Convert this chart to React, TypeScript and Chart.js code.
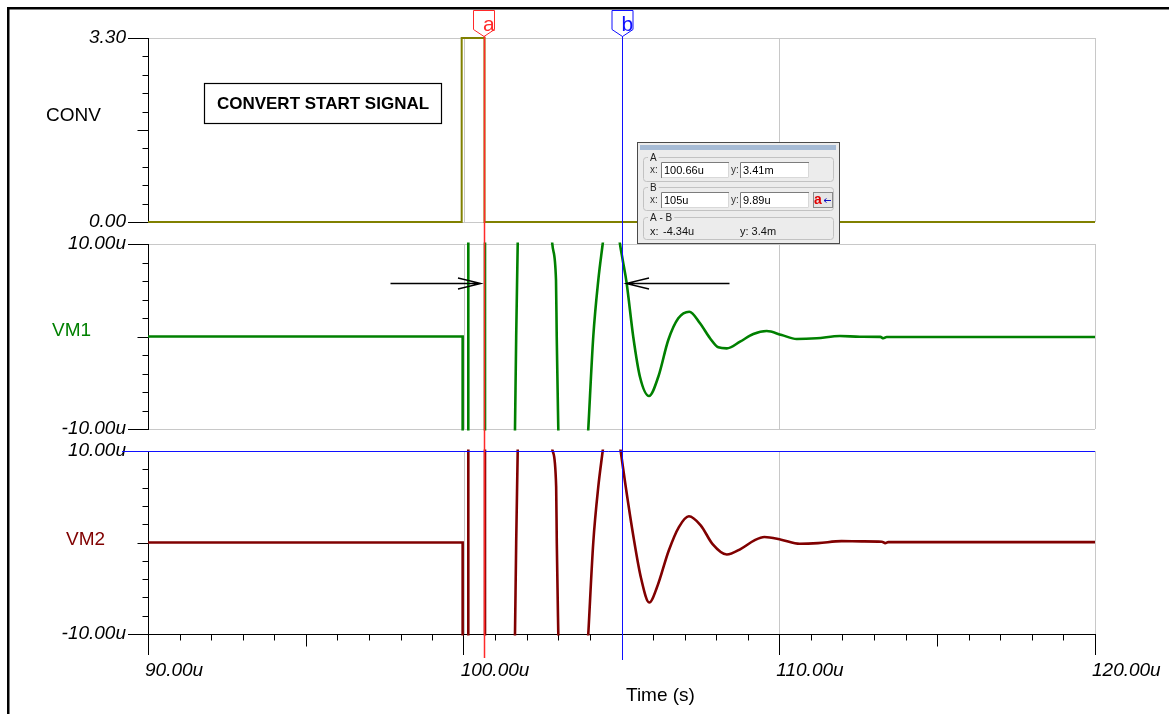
import React, { useEffect, useRef } from 'react';
import { Chart, registerables } from 'chart.js';

Chart.register(...registerables);

// ---------------- data ----------------
const xTickValues = [90, 100, 110, 120];
const xTickLabels = ['90.00u', '100.00u', '110.00u', '120.00u'];
const convTickLabels = ['0.00', '3.30'];
const vmTickLabels = ['-10.00u', '10.00u'];
const panelNames = ['CONV', 'VM1', 'VM2'];
const axisTitle = 'Time (s)';
const noteText = 'CONVERT START SIGNAL';

// time in µs, values in V (CONV) and in µ-units (VM1, VM2); values beyond ±10 are off-scale swings
const convTime = [90, 99.937, 99.937, 100.66, 100.66, 120];
const convValues = [0, 0, 3.3, 3.3, 0, 0];

const vm1Time = [
  90, 99.968, 99.969, 100.146, 100.148, 100.675, 100.677,
  101.55, 101.605, 101.626, 101.664, 101.712, 101.733, 101.85,
  102.7, 102.79, 102.808, 102.925, 102.948, 102.998, 103.02, 103.12,
  103.8, 103.9, 103.948, 104.106, 104.265, 104.404, 104.5, 104.7, 104.88,
  104.952, 105.038, 105.158, 105.373, 105.586, 105.871, 106.166,
  106.482, 106.799, 107.148, 107.487, 107.804, 108.067, 108.333, 108.755,
  109.176, 109.6, 110.075, 110.55, 111.183, 111.921, 112.555, 113.2,
  113.293, 113.4, 113.506, 120,
];
const vm1Values = [
  0, 0, -40, -40, 40, 40, -40,
  -40, -15, -10, 0, 10, 15, 40,
  40, 11.5, 10, 6.1, 0, -10, -14, -40,
  -40, -13, -10, 0, 6.1, 10, 12.7, 16, 12,
  10, 8.27, 5.89, -0.05, -4.38, -6.43, -4.35,
  -0.38, 1.97, 2.68, 1.43, -0.19, -1.17, -1.28, -0.56,
  0.27, 0.59, 0.16, -0.27, -0.19, 0.05, -0.02, -0.04,
  -0.19, -0.05, -0.05, -0.05,
];

const vm2Time = [
  90, 99.968, 99.969, 100.146, 100.148, 100.675, 100.677,
  101.55, 101.605, 101.626, 101.664, 101.712, 101.733, 101.85,
  102.7, 102.8, 102.82, 102.93, 102.95, 102.998, 103.02, 103.12,
  103.8, 103.9, 103.948, 104.106, 104.265, 104.404, 104.5, 104.7, 104.9,
  104.974, 105.126, 105.38, 105.618, 105.88, 106.124, 106.498,
  106.818, 107.135, 107.509, 107.879, 108.336, 108.782, 109.21, 109.527,
  110.059, 110.645, 111.228, 111.972, 112.609, 113.25, 113.353, 113.45,
  113.569, 120,
];
const vm2Values = [
  0, 0, -40, -40, 40, 40, -40,
  -40, -15, -10, 0, 10, 15, 40,
  40, 10.7, 10, 6.1, 0, -10, -14, -40,
  -40, -13, -10, 0, 6.1, 10, 12.7, 16, 11.8,
  10, 6.28, 0.6, -3.88, -6.56, -4.9, -0.87,
  1.69, 2.87, 1.88, -0.14, -1.31, -0.69, 0.23, 0.6,
  0.31, -0.14, -0.07, 0.15, 0.12, 0.08, -0.07, 0.04,
  0.04, 0.04,
];

const cursorTimes = [100.66, 105];
const cursorNames = ['a', 'b'];
const readoutA = ['100.66u', '3.41m'];
const readoutB = ['105u', '9.89u'];
const readoutDiff = ['-4.34u', '3.4m'];

// ---------------- styling ----------------
const FONT = '"Liberation Sans", Arial, Helvetica, sans-serif';
const GRID = '#c8c8c8';
const OLIVE = '#808000';
const GREEN = '#008000';
const MAROON = '#800000';
const CURSOR_A = '#ff2a2a';
const CURSOR_B = '#1010ff';

Chart.defaults.font.family = FONT;

const tickFont = { family: FONT, size: 19, style: 'italic' as const };

function yPanel(min: number, max: number, labels: string[], weight: number, stackWeight: number, bottomColor: string) {
  return {
    type: 'linear' as const,
    axis: 'y' as const,
    position: 'left' as const,
    stack: 'panels',
    stackWeight,
    weight,
    min,
    max,
    afterBuildTicks: (s: any) => {
      s.ticks = [{ value: min }, { value: max }];
    },
    afterFit: (s: any) => {
      s.width = 148;
      s.paddingTop = 0;
      s.paddingBottom = 0;
    },
    ticks: {
      callback: (_v: any, i: number) => labels[i],
      font: tickFont,
      color: '#000',
      padding: 2,
      autoSkip: false,
    },
    grid: {
      color: (ctx: any) => (ctx.index === 0 ? bottomColor : GRID),
      lineWidth: 1,
      drawTicks: true,
      tickLength: 20,
      tickColor: '#000',
    },
    border: { display: true, color: '#000', width: 1 },
  };
}

function gapScale(weight: number, stackWeight: number) {
  return {
    type: 'linear' as const,
    axis: 'y' as const,
    position: 'left' as const,
    stack: 'panels',
    stackWeight,
    weight,
    min: 0,
    max: 1,
    display: false,
  };
}

function hline(ctx: CanvasRenderingContext2D, x1: number, x2: number, y: number) {
  ctx.beginPath();
  ctx.moveTo(x1, y);
  ctx.lineTo(x2, y);
  ctx.stroke();
}
function vline(ctx: CanvasRenderingContext2D, x: number, y1: number, y2: number) {
  ctx.beginPath();
  ctx.moveTo(x, y1);
  ctx.lineTo(x, y2);
  ctx.stroke();
}

function drawFlag(ctx: CanvasRenderingContext2D, x: number, color: string, letter: string) {
  ctx.beginPath();
  ctx.moveTo(x - 10.5, 10.5);
  ctx.lineTo(x + 10.5, 10.5);
  ctx.lineTo(x + 10.5, 29.5);
  ctx.lineTo(x, 36.5);
  ctx.lineTo(x - 10.5, 29.5);
  ctx.closePath();
  ctx.fillStyle = '#fff';
  ctx.fill();
  ctx.strokeStyle = color;
  ctx.lineWidth = 1;
  ctx.stroke();
  ctx.fillStyle = color;
  ctx.font = `21px ${FONT}`;
  ctx.textAlign = 'left';
  ctx.textBaseline = 'alphabetic';
  ctx.fillText(letter, x - 1, 31);
}

function drawArrow(ctx: CanvasRenderingContext2D, tipX: number, tailX: number, y: number) {
  const dir = tailX < tipX ? -1 : 1;
  ctx.beginPath();
  ctx.moveTo(tailX, y);
  ctx.lineTo(tipX, y);
  ctx.moveTo(tipX + dir * 23, y - 5.5);
  ctx.lineTo(tipX, y);
  ctx.lineTo(tipX + dir * 23, y + 5.5);
  ctx.stroke();
}

function inputBox(ctx: CanvasRenderingContext2D, x: number, y: number, w: number, h: number, text: string) {
  ctx.fillStyle = '#fff';
  ctx.fillRect(x, y, w, h);
  ctx.strokeStyle = '#7c7c7c';
  ctx.lineWidth = 1;
  ctx.beginPath();
  ctx.moveTo(x + 0.5, y + h);
  ctx.lineTo(x + 0.5, y + 0.5);
  ctx.lineTo(x + w, y + 0.5);
  ctx.stroke();
  ctx.strokeStyle = '#d8d8d8';
  ctx.beginPath();
  ctx.moveTo(x + w - 0.5, y + 1);
  ctx.lineTo(x + w - 0.5, y + h - 0.5);
  ctx.lineTo(x + 1, y + h - 0.5);
  ctx.stroke();
  ctx.fillStyle = '#000';
  ctx.font = `11px ${FONT}`;
  ctx.textAlign = 'left';
  ctx.textBaseline = 'middle';
  ctx.fillText(text, x + 3, y + h / 2 + 0.5);
}

function groupFrame(ctx: CanvasRenderingContext2D, y: number, h: number, label: string) {
  ctx.strokeStyle = '#c2c2c2';
  ctx.lineWidth = 1;
  ctx.beginPath();
  (ctx as any).roundRect(643.5, y + 0.5, 190, h, 3);
  ctx.stroke();
  ctx.font = `10px ${FONT}`;
  const w = ctx.measureText(label).width;
  ctx.fillStyle = '#ececec';
  ctx.fillRect(648, y - 4, w + 4, 8);
  ctx.fillStyle = '#222';
  ctx.textAlign = 'left';
  ctx.textBaseline = 'middle';
  ctx.fillText(label, 650, y + 1);
}

function drawReadout(ctx: CanvasRenderingContext2D) {
  const x0 = 637, y0 = 142, w = 203, h = 102;
  ctx.fillStyle = '#ececec';
  ctx.fillRect(x0, y0, w, h);
  ctx.strokeStyle = '#4a4a4a';
  ctx.lineWidth = 1;
  ctx.strokeRect(x0 + 0.5, y0 + 0.5, w - 1, h - 1);
  ctx.fillStyle = '#a6bbd5';
  ctx.fillRect(x0 + 3, y0 + 3, w - 7, 5);

  groupFrame(ctx, 157, 24, 'A');
  groupFrame(ctx, 187, 23, 'B');
  groupFrame(ctx, 217, 22, 'A - B');

  ctx.fillStyle = '#333';
  ctx.font = `10px ${FONT}`;
  ctx.textAlign = 'left';
  ctx.textBaseline = 'middle';
  ctx.fillText('x:', 650, 170);
  ctx.fillText('y:', 731, 170);
  ctx.fillText('x:', 650, 200);
  ctx.fillText('y:', 731, 200);
  inputBox(ctx, 661, 162, 68, 16, readoutA[0]);
  inputBox(ctx, 740, 162, 69, 16, readoutA[1]);
  inputBox(ctx, 661, 192, 68, 16, readoutB[0]);
  inputBox(ctx, 740, 192, 69, 16, readoutB[1]);

  // button
  ctx.fillStyle = '#e6e6e6';
  ctx.fillRect(813, 192, 20, 16);
  ctx.strokeStyle = '#8a8a8a';
  ctx.strokeRect(813.5, 192.5, 19, 15);
  ctx.fillStyle = '#e00000';
  ctx.font = `bold 14px ${FONT}`;
  ctx.textBaseline = 'middle';
  ctx.fillText('a', 814, 200.5);
  ctx.strokeStyle = '#1010c0';
  ctx.lineWidth = 1;
  ctx.beginPath();
  ctx.moveTo(831, 200.5);
  ctx.lineTo(824, 200.5);
  ctx.moveTo(826.5, 198.5);
  ctx.lineTo(824, 200.5);
  ctx.lineTo(826.5, 202.5);
  ctx.stroke();

  ctx.fillStyle = '#111';
  ctx.font = `11px ${FONT}`;
  ctx.fillText('x:', 650, 232);
  ctx.fillText(readoutDiff[0], 663, 232);
  ctx.fillText('y: ' + readoutDiff[1], 740, 232);
}

const overlay = {
  id: 'overlay',
  beforeDraw(chart: any) {
    const { ctx, width, height } = chart;
    ctx.save();
    ctx.fillStyle = '#fff';
    ctx.fillRect(0, 0, width, height);
    ctx.fillStyle = '#000';
    ctx.fillRect(7, 7, width - 7, 2.5);
    ctx.fillRect(7, 7, 2.5, height - 7);
    ctx.restore();
  },
  beforeDatasetsDraw(chart: any) {
    const { ctx } = chart;
    const xs = chart.scales.x;
    const panels = [chart.scales.yConv, chart.scales.yVm1, chart.scales.yVm2];
    ctx.save();
    ctx.lineWidth = 1;
    // vertical grid lines inside each panel
    ctx.strokeStyle = GRID;
    for (const ys of panels) {
      for (const v of xTickValues.slice(1)) {
        const x = Math.round(xs.getPixelForValue(v)) + 0.5;
        vline(ctx, x, ys.top, ys.bottom);
      }
    }
    // y minor ticks
    ctx.strokeStyle = '#000';
    const ax = Math.round(xs.left) + 0.5;
    for (const ys of panels) {
      for (let i = 1; i < 10; i++) {
        const v = ys.min + (i * (ys.max - ys.min)) / 10;
        const y = Math.round(ys.getPixelForValue(v)) + 0.5;
        const len = i === 5 ? 11 : 6;
        hline(ctx, ax - len, ax, y);
      }
    }
    // x minor ticks
    const by = Math.round(xs.top) + 0.5;
    for (let t = 91; t < 120; t++) {
      if (t % 10 === 0) continue;
      const x = Math.round(xs.getPixelForValue(t)) + 0.5;
      vline(ctx, x, by, by + (t % 5 === 0 ? 12 : 6));
    }
    // panel names
    ctx.font = `19px ${FONT}`;
    ctx.textAlign = 'left';
    ctx.textBaseline = 'middle';
    ctx.fillStyle = '#000';
    ctx.fillText(panelNames[0], 46, 116);
    ctx.fillStyle = GREEN;
    ctx.fillText(panelNames[1], 52, 331);
    ctx.fillStyle = MAROON;
    ctx.fillText(panelNames[2], 66, 540);
    // axis title
    ctx.fillStyle = '#000';
    ctx.fillText(axisTitle, 626, 696);
    ctx.restore();
  },
  beforeDatasetDraw(chart: any, args: any) {
    const { ctx } = chart;
    const ys = args.meta.yScale;
    const xs = args.meta.xScale;
    ctx.save();
    ctx.beginPath();
    ctx.rect(xs.left - 1, ys.top - 1.5, xs.right - xs.left + 2, ys.bottom - ys.top + 3);
    ctx.clip();
  },
  afterDatasetDraw(chart: any) {
    chart.ctx.restore();
  },
  afterDatasetsDraw(chart: any) {
    const { ctx } = chart;
    const xs = chart.scales.x;
    const yVm1 = chart.scales.yVm1;
    const yVm2 = chart.scales.yVm2;
    ctx.save();

    // note box
    ctx.fillStyle = '#fff';
    ctx.fillRect(204.5, 83.5, 237, 40);
    ctx.strokeStyle = '#000';
    ctx.lineWidth = 1.2;
    ctx.strokeRect(204.5, 83.5, 237, 40);
    ctx.fillStyle = '#000';
    ctx.font = `bold 17px ${FONT}`;
    ctx.textAlign = 'center';
    ctx.textBaseline = 'middle';
    ctx.fillText(noteText, 323, 104);

    const xa = xs.getPixelForValue(cursorTimes[0]);
    const xb = Math.round(xs.getPixelForValue(cursorTimes[1])) + 0.5;

    // blue horizontal cursor line at top of VM2 panel
    ctx.strokeStyle = CURSOR_B;
    ctx.lineWidth = 1;
    const yb = Math.round(yVm2.getPixelForValue(10)) + 0.5;
    hline(ctx, 122, xs.right, yb);

    // arrows
    ctx.strokeStyle = '#000';
    ctx.lineWidth = 1.3;
    const ay = Math.round(yVm1.getPixelForValue(5.8)) + 0.5;
    drawArrow(ctx, xa - 3.5, xa - 94, ay);
    drawArrow(ctx, xb + 3.5, xb + 107, ay);

    // cursor lines
    ctx.strokeStyle = CURSOR_A;
    ctx.lineWidth = 1.5;
    vline(ctx, xa, 36, 658);
    ctx.strokeStyle = CURSOR_B;
    ctx.lineWidth = 1;
    vline(ctx, xb, 36, 660);
    drawFlag(ctx, Math.round(xa) - 1, CURSOR_A, cursorNames[0]);
    drawFlag(ctx, Math.round(xb) - 0.5, CURSOR_B, cursorNames[1]);

    drawReadout(ctx);
    ctx.restore();
  },
};

const pts = (t: number[], v: number[]) => t.map((x, i) => ({ x, y: v[i] }));

export default function App() {
  const ref = useRef<HTMLCanvasElement>(null);
  useEffect(() => {
    const chart = new Chart(ref.current as HTMLCanvasElement, {
      type: 'line',
      data: {
        datasets: [
          {
            label: 'CONV',
            data: pts(convTime, convValues),
            xAxisID: 'x',
            yAxisID: 'yConv',
            borderColor: OLIVE,
            borderWidth: 2,
            pointRadius: 0,
            tension: 0,
            clip: false,
          },
          {
            label: 'VM1',
            data: pts(vm1Time, vm1Values),
            xAxisID: 'x',
            yAxisID: 'yVm1',
            borderColor: GREEN,
            borderWidth: 2.6,
            pointRadius: 0,
            cubicInterpolationMode: 'monotone',
            clip: false,
          },
          {
            label: 'VM2',
            data: pts(vm2Time, vm2Values),
            xAxisID: 'x',
            yAxisID: 'yVm2',
            borderColor: MAROON,
            borderWidth: 2.6,
            pointRadius: 0,
            cubicInterpolationMode: 'monotone',
            clip: false,
          },
        ],
      },
      options: {
        responsive: false,
        animation: false,
        devicePixelRatio: 1,
        events: [],
        layout: { padding: { left: 0, top: 38, right: 74, bottom: 0 } },
        elements: { point: { radius: 0 }, line: { capBezierPoints: false } },
        plugins: {
          legend: { display: false },
          tooltip: { enabled: false },
          title: { display: false },
        },
        scales: {
          x: {
            type: 'linear',
            position: 'bottom',
            min: 90,
            max: 120,
            afterBuildTicks: (s: any) => {
              s.ticks = xTickValues.map((value) => ({ value }));
            },
            afterFit: (s: any) => {
              s.height = 80;
              s.paddingLeft = 0;
              s.paddingRight = 0;
            },
            ticks: {
              callback: (_v: any, i: number) => xTickLabels[i],
              font: tickFont,
              color: '#000',
              align: 'start',
              labelOffset: -3,
              padding: 4,
              maxRotation: 0,
              autoSkip: false,
            },
            grid: {
              drawOnChartArea: false,
              drawTicks: true,
              tickLength: 21,
              tickColor: '#000',
            },
            border: { display: true, color: '#000', width: 1 },
          },
          yConv: yPanel(0, 3.3, convTickLabels, 5, 184, GRID),
          gap1: gapScale(4, 22),
          yVm1: yPanel(-10, 10, vmTickLabels, 3, 185, GRID),
          gap2: gapScale(2, 22),
          yVm2: yPanel(-10, 10, vmTickLabels, 1, 183, '#000'),
        } as any,
      },
      plugins: [overlay as any],
    });
    return () => chart.destroy();
  }, []);

  return (
    <div style={{ position: 'fixed', left: 0, top: 0, width: 1169, height: 714, background: '#fff' }}>
      <canvas ref={ref} width={1169} height={714} style={{ display: 'block', width: 1169, height: 714 }} />
    </div>
  );
}
